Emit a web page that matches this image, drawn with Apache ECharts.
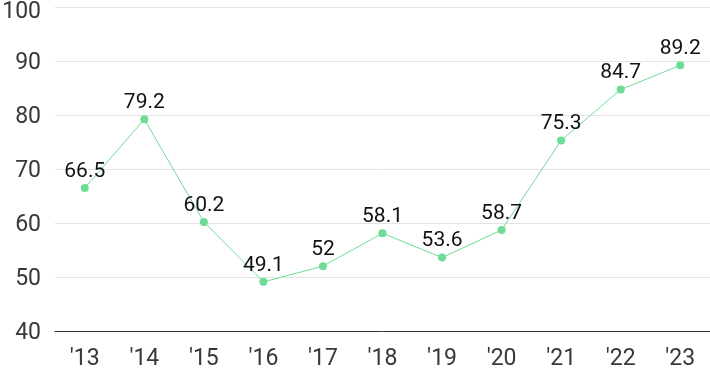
<!DOCTYPE html>
<html><head><meta charset="utf-8">
<script src="https://cdn.jsdelivr.net/npm/echarts@6/dist/echarts.min.js"></script>
<style>html,body{margin:0;padding:0;background:#fff}#c{width:710px;height:371px}</style>
</head><body><div id="c"></div>
<script>
const categories = ["'13","'14","'15","'16","'17","'18","'19","'20","'21","'22","'23"];
const values = [66.5, 79.2, 60.2, 49.1, 52, 58.1, 53.6, 58.7, 75.3, 84.7, 89.2];
const yTicks = [40, 50, 60, 70, 80, 90, 100];
const font = "Roboto, 'Noto Sans CJK KR', sans-serif";
const labStyle = {color: '#383838', fontSize: 23, fontFamily: font};
const chart = echarts.init(document.getElementById('c'), null, {renderer: 'canvas'});
chart.setOption({
  animation: false,
  grid: {left: 55, right: 0, top: 7, bottom: 40, containLabel: false, outerBoundsMode: 'none'},
  xAxis: {
    type: 'category', data: categories, boundaryGap: true,
    axisLine: {lineStyle: {color: '#333', width: 1}},
    axisTick: {show: false},
    axisLabel: {color: '#383838', fontSize: 23, fontFamily: font, margin: 17}
  },
  yAxis: {
    type: 'value', min: yTicks[0], max: yTicks[yTicks.length-1], interval: 10,
    axisLine: {show: false}, axisTick: {show: false},
    splitLine: {lineStyle: {color: '#e3e3e3', width: 1}},
    axisLabel: {
      margin: 14,
      formatter: v => (v === yTicks[yTicks.length-1] ? '{t|' + v + '}' : '{n|' + v + '}'),
      rich: {
        t: Object.assign({padding: [10, 0, 0, 0]}, labStyle),
        n: Object.assign({padding: [4, 0, 0, 0]}, labStyle)
      }
    }
  },
  series: [{
    type: 'line', data: values,
    symbol: 'circle', symbolSize: 8,
    lineStyle: {color: '#6edc95', width: 1},
    itemStyle: {color: '#6edc95'},
    label: {show: true, position: 'top', distance: 2, color: '#111', fontSize: 21, fontFamily: font}
  }]
});
</script></body></html>
